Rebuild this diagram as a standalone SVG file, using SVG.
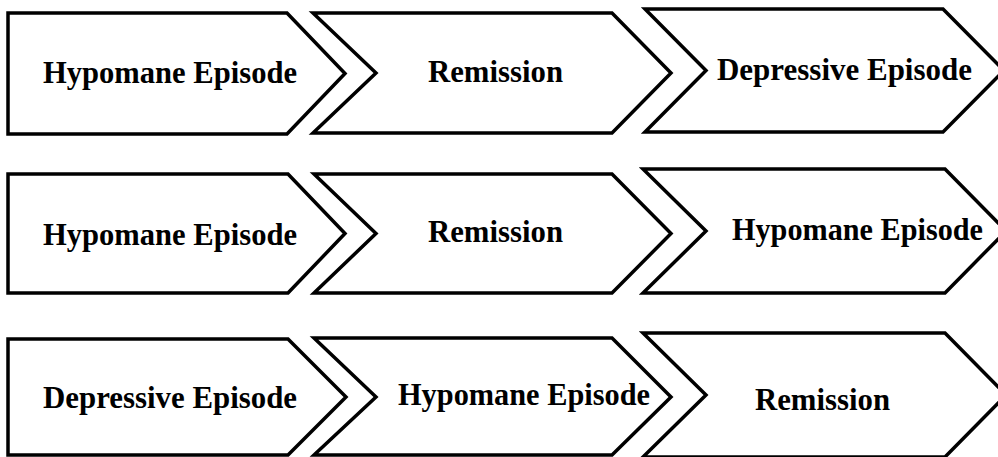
<svg xmlns="http://www.w3.org/2000/svg" width="998" height="457" viewBox="0 0 998 457">
<style>
.s{fill:#fff;stroke:#000;stroke-width:3.5;stroke-linejoin:miter}
.t{font-family:"Liberation Serif","Times New Roman",serif;font-weight:bold;font-size:31px;fill:#000}
</style>
<rect width="998" height="457" fill="#fff"/>
<g id="r1n1"><polygon class="s" points="8,13 287,13 345,73.5 287,134 8,134"/><text class="t" x="43" y="83" textLength="254" lengthAdjust="spacingAndGlyphs">Hypomane Episode</text></g>
<g id="r1n2"><polygon class="s" points="313,13 612,13 671,73 612,133 313,133 376,73"/><text class="t" x="428" y="82" textLength="135" lengthAdjust="spacingAndGlyphs">Remission</text></g>
<g id="r1n3"><polygon class="s" points="645,9 943,9 1004,70.5 943,132 645,132 706,70.5"/><text class="t" x="717" y="80" textLength="255" lengthAdjust="spacingAndGlyphs">Depressive Episode</text></g>
<g id="r2n1"><polygon class="s" points="8,174 288,174 345,233.5 288,293 8,293"/><text class="t" x="43" y="245" textLength="254" lengthAdjust="spacingAndGlyphs">Hypomane Episode</text></g>
<g id="r2n2"><polygon class="s" points="314,174 612,174 671,233.5 612,293 314,293 376,233.5"/><text class="t" x="428" y="242" textLength="135" lengthAdjust="spacingAndGlyphs">Remission</text></g>
<g id="r2n3"><polygon class="s" points="643,169 945,169 1006,231 945,293 643,293 706,231"/><text class="t" x="732" y="240" textLength="251" lengthAdjust="spacingAndGlyphs">Hypomane Episode</text></g>
<g id="r3n1"><polygon class="s" points="8,339 288,339 346,397 288,455 8,455"/><text class="t" x="43" y="408" textLength="254" lengthAdjust="spacingAndGlyphs">Depressive Episode</text></g>
<g id="r3n2"><polygon class="s" points="314,338 612,338 671,397 612,455 314,455 376,397"/><text class="t" x="398" y="405" textLength="252" lengthAdjust="spacingAndGlyphs">Hypomane Episode</text></g>
<g id="r3n3"><polygon class="s" points="643,333 945,333 1006,395 945,457 643,457 706,395"/><text class="t" x="755" y="410" textLength="135" lengthAdjust="spacingAndGlyphs">Remission</text></g>
<g id="connectors"/>
</svg>
